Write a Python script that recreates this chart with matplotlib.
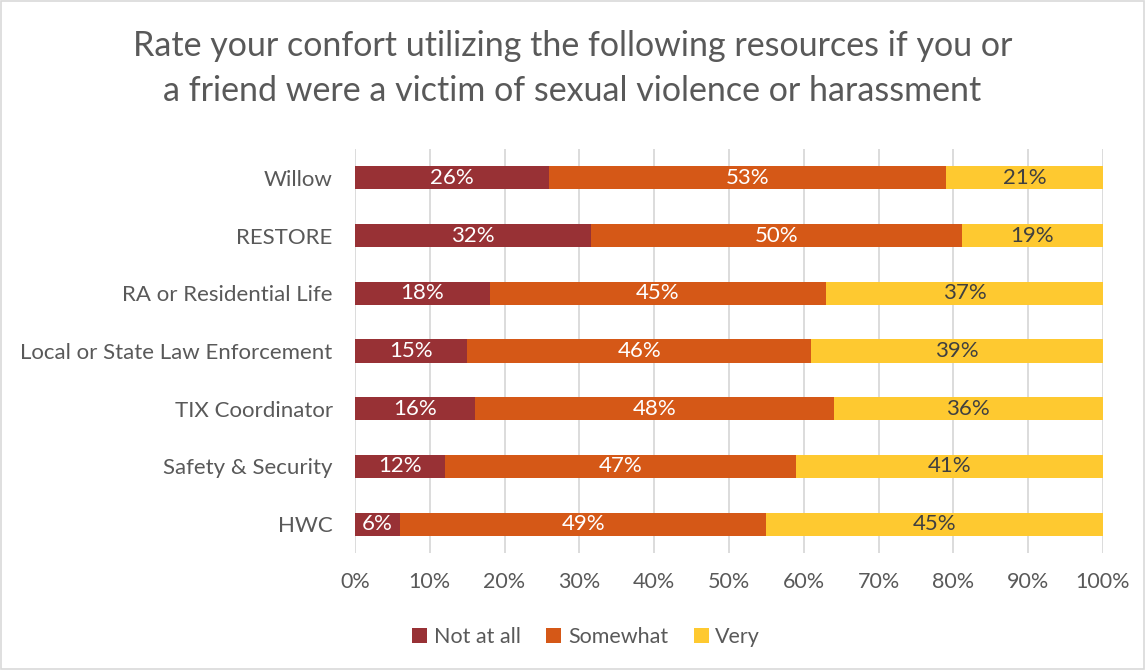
import matplotlib.pyplot as plt
from matplotlib.patches import Rectangle

categories = ['Willow', 'RESTORE', 'RA or Residential Life', 'Local or State Law Enforcement',
              'TIX Coordinator', 'Safety & Security', 'HWC']
not_at_all = [26.0, 31.6, 18.0, 15.0, 16.0, 12.0, 6.0]
somewhat = [53.0, 49.5, 45.0, 46.0, 48.0, 47.0, 49.0]
very = [21.0, 18.9, 37.0, 39.0, 36.0, 41.0, 45.0]
series_names = ['Not at all', 'Somewhat', 'Very']
colors = ['#983135', '#d55817', '#fec930']
label_colors = ['white', 'white', '#404040']
ticks = list(range(0, 101, 10))

plt.rcParams['font.family'] = ['Lato', 'DejaVu Sans']
grey = '#595959'

fig = plt.figure(figsize=(11.45, 6.7), dpi=100)
ax = fig.add_axes([0.310, 0.1746, 0.6533, 0.603])

y = list(range(len(categories)))
left = [0.0] * len(categories)
for name, vals, c, lc in zip(series_names, [not_at_all, somewhat, very], colors, label_colors):
    bars = ax.barh(y, vals, left=left, height=0.4, color=c, label=name, zorder=3)
    for b, v in zip(bars, vals):
        ax.text(b.get_x() + b.get_width() / 2, b.get_y() + b.get_height() / 2,
                '%d%%' % round(v), ha='center', va='center', color=lc, fontsize=16, zorder=4)
    left = [l + v for l, v in zip(left, vals)]

ax.set_xlim(0, 100)
ax.set_ylim(len(categories) - 0.5, -0.5)
ax.set_yticks(y)
ax.set_yticklabels(categories)
ax.set_xticks(ticks)
ax.set_xticklabels(['%d%%' % t for t in ticks])
ax.tick_params(axis='both', length=0, labelsize=15.5, labelcolor=grey)
ax.tick_params(axis='y', labelsize=16, pad=16)
ax.tick_params(axis='x', pad=14)
ax.grid(axis='x', color='#d9d9d9', linewidth=1.3, zorder=0)
for s in ax.spines.values():
    s.set_visible(False)

fig.suptitle('Rate your confort utilizing the following resources if you or\n'
             'a friend were a victim of sexual violence or harassment',
             y=0.955, fontsize=24.5, color=grey, linespacing=1.5)

fig.legend(loc='center', bbox_to_anchor=(0.512, 0.049), ncol=3, frameon=False,
           fontsize=15.5, labelcolor=grey, handlelength=0.7, handleheight=0.7,
           handletextpad=0.3, columnspacing=1.2)

fig.patches.append(Rectangle((0.001, 0.001), 0.998, 0.997, transform=fig.transFigure,
                             fill=False, edgecolor='#d9d9d9', linewidth=1.2))

fig.savefig('out.png', dpi=100)
